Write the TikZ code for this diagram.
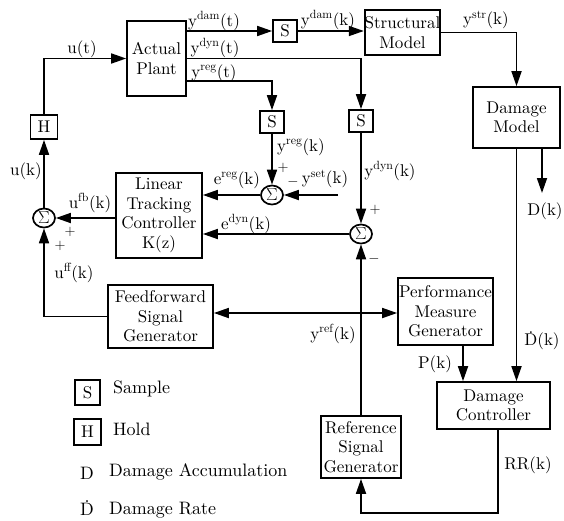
\documentclass[tikz,border=0pt]{standalone}
\usepackage{fontspec}
\setmainfont{lmroman10-regular.otf}
\usetikzlibrary{arrows.meta,shapes.geometric}
\newcommand{\boxfont}{\fontsize{17}{19.5}\selectfont}
\newcommand{\legfont}{\fontsize{18}{20}\selectfont}
\newcommand{\signfont}{\fontsize{15}{15}\selectfont}
\newcommand{\Dd}{\leavevmode\hbox{\ooalign{D\cr\hidewidth\raisebox{0.72em}{.}\hidewidth\cr}}}
\tikzset{
  blk/.style={draw, line width=1.7pt, align=center, inner sep=0pt, font=\boxfont},
  sbox/.style={draw, line width=1.7pt, minimum width=24pt, minimum height=22pt, inner sep=0pt, font=\boxfont},
  sumn/.style={draw, ellipse, line width=1.7pt, minimum width=22pt, minimum height=19pt, inner sep=0pt, font=\boxfont},
  lbl/.style={font=\boxfont, inner sep=0pt},
  leg/.style={font=\legfont, inner sep=0pt},
  sgn/.style={font=\signfont, inner sep=0pt},
  sig/.style={line width=1.7pt, -{Triangle[length=15pt,width=10pt]}},
}
\begin{document}
\begin{tikzpicture}[x=1pt,y=-1pt]
\useasboundingbox (0,0) rectangle (564,520);
% blocks
\node[blk, minimum width=59pt, minimum height=75pt] (plant) at (156.5,58.5) {Actual\\Plant};
\node[blk, minimum width=75pt, minimum height=45pt] (sm) at (402.5,32.5) {Structural\\Model};
\node[blk, minimum width=87pt, minimum height=61pt] (dm) at (516.5,117.5) {Damage\\Model};
\node[blk, minimum width=86pt, minimum height=85pt] (ltc) at (159,215.5) {Linear\\Tracking\\Controller\\K(z)};
\node[blk, minimum width=105pt, minimum height=63pt] (ffg) at (160.5,316.5) {Feedforward\\Signal\\Generator};
\node[blk, minimum width=95pt, minimum height=67pt] (pmg) at (445.5,311.5) {Performance\\Measure\\Generator};
\node[blk, minimum width=80pt, minimum height=62pt] (rsg) at (361,447) {Reference\\Signal\\Generator};
\node[blk, minimum width=113pt, minimum height=47pt] (dc) at (493.5,405.5) {Damage\\Controller};
% sample / hold
\node[sbox] (sdam) at (285,31) {S};
\node[sbox] (sreg) at (272,122) {S};
\node[sbox] (sdyn) at (361,121) {S};
\node[sbox, minimum width=27pt, minimum height=24pt] (hold) at (44,127) {H};
% sums
\node[sumn] (sumL) at (44,218) {$\Sigma$};
\node[sumn] (sumR) at (272,195) {$\Sigma$};
\node[sumn] (sumD) at (361,234) {$\Sigma$};
% free coordinates
\coordinate (dk) at (542,193);
\coordinate (yset) at (338,195);
\coordinate (jn) at (361,313);
\coordinate (rrc) at (498,513);
\coordinate (pk) at (463,0);
% connectors
\draw[sig] (hold.north) |- (plant.west);
\draw[sig] (sumL.north) -- (hold.south);
\draw[sig] (plant.east |- sdam.west) -- (sdam.west);
\draw[sig] (sdam.east) -- (sm.west |- sdam.east);
\draw[sig] (sm.east) -| (dm.north);
\draw[sig] (dk |- dm.south) -- (dk);
\draw[sig] (dm.south) -- (dm.south |- dc.north);
\draw[sig] (pk |- pmg.south) -- (pk |- dc.north);
\draw[sig] (rrc |- dc.south) -- (rrc) -| (rsg.south);
\draw[sig] (rsg.north) -- (sumD.south);
\draw[sig] (jn) -- (ffg.east |- jn);
\draw[sig] (jn) -- (pmg.west |- jn);
\draw[sig] (plant.east) -| (sdyn.north);
\draw[sig] ([yshift=-22.5pt]plant.east) -| (sreg.north);
\draw[sig] (sreg.south) -- (sumR.north);
\draw[sig] (yset) -- (sumR.east);
\draw[sig] (sumR.west) -- (ltc.east |- sumR.west);
\draw[sig] (sdyn.south) -- (sumD.north);
\draw[sig] (sumD.west) -- (ltc.east |- sumD.west);
\draw[sig] (ltc.west |- sumL.east) -- (sumL.east);
\draw[sig] (ffg.west) -| (sumL.south);
% signal labels
\node[lbl] (lut) at (82,49) {u(t)};
\node[lbl] (luk) at (26,171) {u(k)};
\node[lbl] (lufb) at (90,203) {u\textsuperscript{fb}(k)};
\node[lbl] (luff) at (74,273) {u\textsuperscript{ff}(k)};
\node[lbl] (lydamt) at (214,21) {y\textsuperscript{dam}(t)};
\node[lbl] (lydynt) at (215,48) {y\textsuperscript{dyn}(t)};
\node[lbl] (lyregt) at (214,73) {y\textsuperscript{reg}(t)};
\node[lbl] (lydamk) at (328,20) {y\textsuperscript{dam}(k)};
\node[lbl] (lystr) at (486,20) {y\textsuperscript{str}(k)};
\node[lbl] (lyregk) at (301,147) {y\textsuperscript{reg}(k)};
\node[lbl] (lyset) at (325,179) {y\textsuperscript{set}(k)};
\node[lbl] (lydynk) at (390,171) {y\textsuperscript{dyn}(k)};
\node[lbl] (lereg) at (237,180) {e\textsuperscript{reg}(k)};
\node[lbl] (ledyn) at (246,224) {e\textsuperscript{dyn}(k)};
\node[lbl] (lyref) at (333,334) {y\textsuperscript{ref}(k)};
\node[lbl] (ldk) at (545,211) {D(k)};
\node[lbl] (lddk) at (542,341) {\Dd(k)};
\node[lbl] (lpk) at (435,364) {P(k)};
\node[lbl] (lrr) at (528,465) {RR(k)};
% signs
\node[sgn] (pL1) at (70,232) {$+$};
\node[sgn] (pL2) at (60,246) {$+$};
\node[sgn] (pR1) at (283,168) {$+$};
\node[sgn] (mR1) at (293,182) {$-$};
\node[sgn] (pD1) at (375,210) {$+$};
\node[sgn] (mD1) at (374,259) {$-$};
% legend
\node[sbox, minimum width=25pt, minimum height=25pt] (legS) at (87.5,392.5) {S};
\node[sbox, minimum width=27pt, minimum height=26pt] (legH) at (87.5,432) {H};
\node[leg, anchor=west] (legSt) at (113,389) {Sample};
\node[leg, anchor=west] (legHt) at (113,429) {Hold};
\node[leg] (legD) at (87,473) {D};
\node[leg, anchor=west] (legDt) at (109,472) {Damage Accumulation};
\node[leg] (legDd) at (87,509) {\Dd};
\node[leg, anchor=west] (legDdt) at (109,510) {Damage Rate};
\end{tikzpicture}
\end{document}
